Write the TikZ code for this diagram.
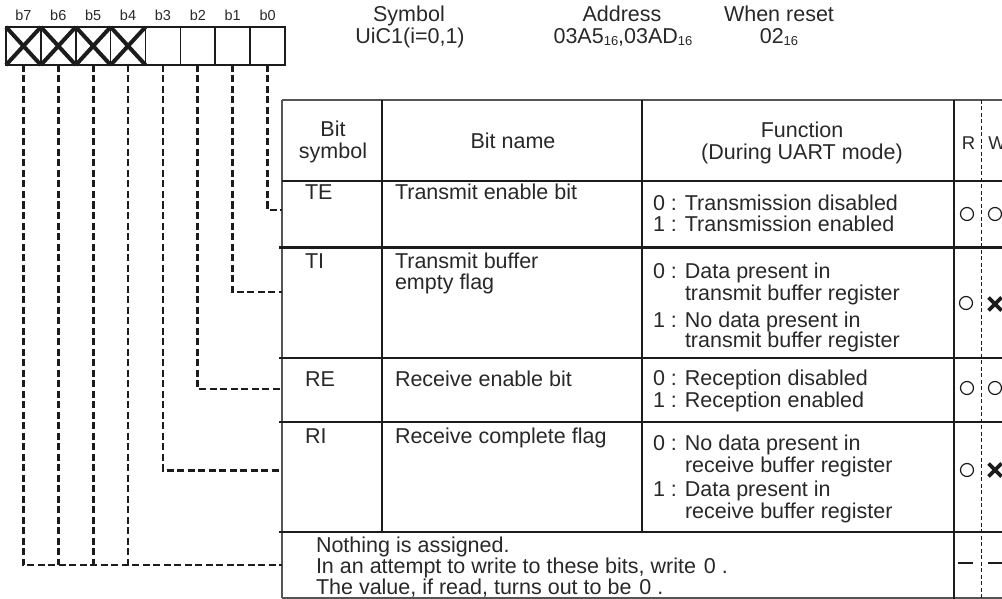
\documentclass[tikz,border=0pt]{standalone}
\usepackage{fontspec}
\setmainfont{Liberation Sans}
\definecolor{ink}{RGB}{28,28,28}
\definecolor{txt}{RGB}{40,40,40}
\newcommand\hexsub[1]{\raisebox{-1.8pt}{\fontsize{13}{13}\selectfont #1}}
\tikzset{
  txt/.style={text=txt, inner sep=0pt, outer sep=0pt, font=\fontsize{21.5}{21.5}\selectfont},
  lbl/.style={txt, anchor=base west},
  clbl/.style={txt, anchor=base},
  rwlbl/.style={clbl, font=\fontsize{18.5}{18.5}\selectfont},
  bitlbl/.style={clbl, font=\fontsize{14.5}{14.5}\selectfont},
  bitcell/.style={draw=ink, line width=1.6pt, minimum width=34.875pt, minimum height=38pt, inner sep=0pt, outer sep=0pt},
  crossline/.style={draw=ink, line width=4pt},
  conn/.style={draw=ink, line width=2.8pt, dash pattern=on 7pt off 3.5pt},
  rule/.style={draw=ink, line width=2.8pt},
  midrule/.style={draw=ink, line width=2pt},
  thinrule/.style={draw=ink!75, line width=1.7pt},
  rwsep/.style={draw=ink, line width=1pt, dash pattern=on 4pt off 2.5pt},
  okmark/.style={circle, draw=ink, line width=1.2pt, minimum size=13pt, inner sep=0pt},
  markbox/.style={minimum width=13pt, minimum height=13pt, inner sep=0pt, outer sep=0pt},
  xline/.style={draw=ink, line width=3.6pt},
  dashline/.style={draw=ink, line width=2.6pt},
}
\begin{document}
\begin{tikzpicture}[x=1pt, y=-1pt]
\useasboundingbox (0,0) rectangle (1002,599);
\clip (0,0) rectangle (1002,599);

% ---- register header -------------------------------------------------
\node[clbl] (symT) at (409,22) {Symbol};
\node[clbl] (symV) at (410,44) {UiC1(i=0,1)};
\node[clbl] (adrT) at (622,22) {Address};
\node[clbl] (adrV) at (623,44) {03A5\hexsub{16},03AD\hexsub{16}};
\node[clbl] (rstT) at (779,22) {When reset};
\node[clbl] (rstV) at (779,44) {02\hexsub{16}};

% ---- bit cells b7..b0 ------------------------------------------------
\foreach \k/\b in {0/7,1/6,2/5,3/4,4/3,5/2,6/1,7/0}{
  \node[bitcell] (c\b) at ({6+34.875*(\k+0.5)},46) {};
  \node[bitlbl] (l\b) at ({6+34.875*(\k+0.5)},21) {b\b};
}
\foreach \b in {7,6,5,4}{
  \draw[crossline] (c\b.north west) -- (c\b.south east)
                   (c\b.south west) -- (c\b.north east);
}

% ---- table frame -----------------------------------------------------
\draw[thinrule] (282,100) -- (1002,100);
\draw[thinrule] (282,100) -- (282,598);
\draw[thinrule] (282,598) -- (1002,598);
\draw[midrule] (282,181) -- (1002,181);
\foreach \y in {247.5,358,422,532}{
  \draw[rule] (279,\y) -- (1002,\y);
}
\draw[rule] (382,100) -- (382,532);
\draw[rule] (642,100) -- (642,532);
\draw[rule] (954,100) -- (954,599);
\draw[rwsep] (981,100) -- (981,599);

% ---- connector ends on the table edge --------------------------------
\coordinate (tTE) at (282,210);
\coordinate (tTI) at (282,292);
\coordinate (tRE) at (282,389);
\coordinate (tRI) at (282,470.7);
\coordinate (tNA) at (282,565);

\draw[conn] (c0.south) |- (tTE);
\draw[conn] (c1.south) |- (tTI);
\draw[conn] (c2.south) |- (tRE);
\draw[conn] (c3.south) |- (tRI);
\draw[conn] (c7.south) |- (tNA);
\foreach \b in {6,5,4}{
  \draw[conn] (c\b.south) -- (c\b.south |- tNA);
}

% ---- column headings -------------------------------------------------
\node[clbl] (hBit)  at (333,137) {Bit};
\node[clbl] (hSym)  at (333,159) {symbol};
\node[clbl] (hName) at (513,148.5) {Bit name};
\node[clbl] (hFun)  at (802,138) {Function};
\node[clbl] (hMode) at (802,160) {(During UART mode)};
\node[rwlbl] (hR) at (968.5,150) {R};
\node[rwlbl] (hW) at (997,150) {W};

% ---- TE ---------------------------------------------------------------
\node[lbl] (sTE) at (305,200) {TE};
\node[lbl] (nTE) at (395,200) {Transmit enable bit};
\node[lbl] (fTEa) at (653,211) {0 : Transmission disabled};
\node[lbl] (fTEb) at (653,232) {1 : Transmission enabled};
\node[okmark] (rTE) at (967,214) {};
\node[okmark] (wTE) at (995,214) {};

% ---- TI ---------------------------------------------------------------
\node[lbl] (sTI) at (305,268) {TI};
\node[lbl] (nTIa) at (395,268) {Transmit buffer};
\node[lbl] (nTIb) at (395,289) {empty flag};
\node[lbl] (fTIa) at (653,278) {0 : Data present in};
\node[lbl] (fTIb) at (685,300) {transmit buffer register};
\node[lbl] (fTIc) at (653,327) {1 : No data present in};
\node[lbl] (fTId) at (685,347) {transmit buffer register};
\node[okmark] (rTI) at (966,303) {};
\node[markbox] (wTI) at (995,304) {};
\draw[xline] (wTI.north west) -- (wTI.south east) (wTI.south west) -- (wTI.north east);

% ---- RE ---------------------------------------------------------------
\node[lbl] (sRE) at (305,386) {RE};
\node[lbl] (nRE) at (395,386) {Receive enable bit};
\node[lbl] (fREa) at (653,385) {0 : Reception disabled};
\node[lbl] (fREb) at (653,407) {1 : Reception enabled};
\node[okmark] (rRE) at (967,388) {};
\node[okmark] (wRE) at (995,388) {};

% ---- RI ---------------------------------------------------------------
\node[lbl] (sRI) at (305,443) {RI};
\node[lbl] (nRI) at (395,443) {Receive complete flag};
\node[lbl] (fRIa) at (653,450) {0 : No data present in};
\node[lbl] (fRIb) at (685,472) {receive buffer register};
\node[lbl] (fRIc) at (653,496) {1 : Data present in};
\node[lbl] (fRId) at (685,518) {receive buffer register};
\node[okmark] (rRI) at (967,470) {};
\node[markbox] (wRI) at (995,470) {};
\draw[xline] (wRI.north west) -- (wRI.south east) (wRI.south west) -- (wRI.north east);

% ---- reserved bits ----------------------------------------------------
\node[lbl] (na1) at (316,552) {Nothing is assigned.};
\node[lbl] (na2) at (316,573) {In an attempt to write to these bits, write\hspace{8pt}0 .};
\node[lbl] (na3) at (316,594) {The value, if read, turns out to be\hspace{8pt}0 .};
\node[markbox, minimum width=15pt] (rNA) at (965.5,563) {};
\node[markbox, minimum width=15pt] (wNA) at (995,563) {};
\draw[dashline] (rNA.west) -- (rNA.east);
\draw[dashline] (wNA.west) -- (wNA.east);
\end{tikzpicture}
\end{document}
